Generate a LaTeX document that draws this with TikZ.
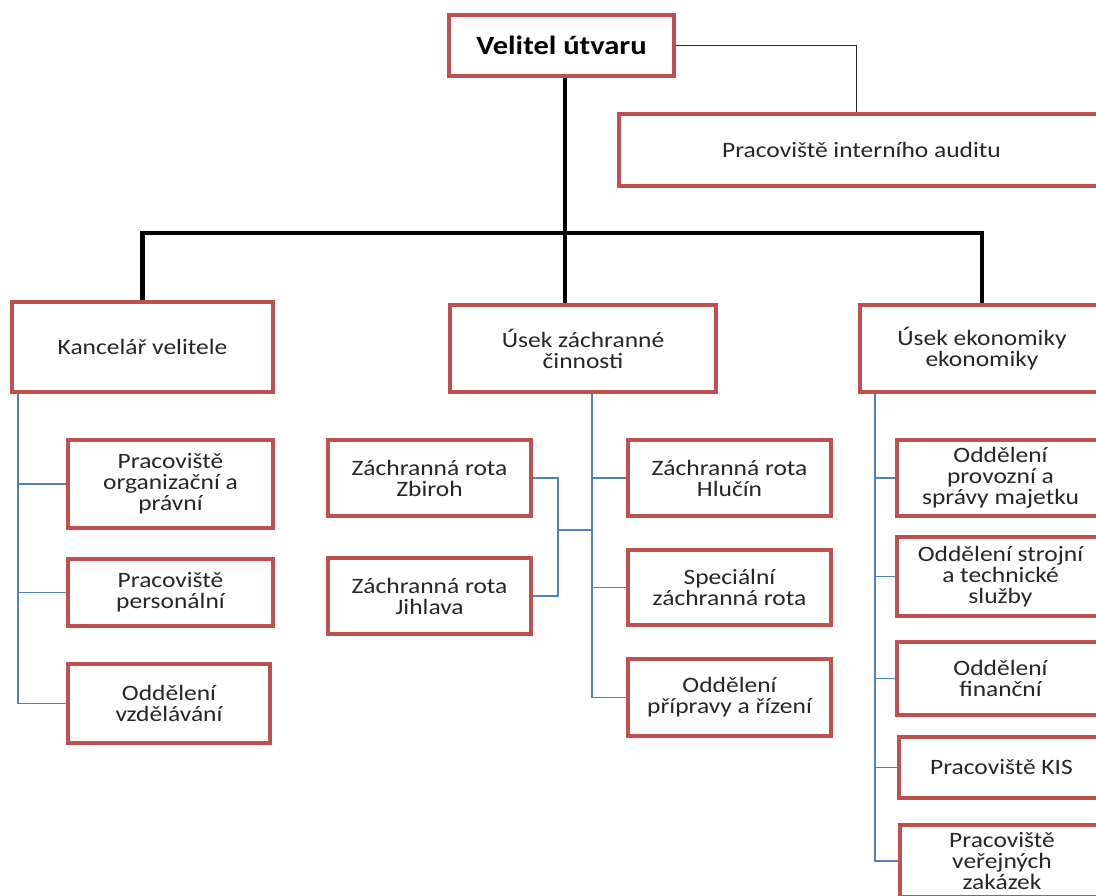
\documentclass[tikz,border=0pt]{standalone}
\usepackage{fontspec}
\setmainfont{Carlito}[FakeStretch=1.16]
\usepackage{tikz}
\usetikzlibrary{calc}
\definecolor{orgBorder}{HTML}{C0504D}
\definecolor{orgBranch}{HTML}{4F81BD}
\definecolor{orgText}{HTML}{262626}

\begin{document}
\begin{tikzpicture}[
        x=0.02cm, y=-0.02cm,
        box/.style={
            draw=orgBorder,
            line width=2.3pt,
            fill=white,
            align=center,
            inner sep=1pt,
            text=orgText,
            font=\fontsize{12.5}{12}\selectfont
        },
        trunk/.style={
            line width=2.8pt,
            draw=black
        },
        link/.style={
            line width=0.7pt,
            draw=black!85
        },
        branch/.style={
            line width=0.9pt,
            draw=orgBranch
        }
    ]
    \path[use as bounding box, clip] (0,0) rectangle (1096,896);

    % top level
    \node[box, minimum width=4.5cm, minimum height=1.22cm,
          font=\fontsize{15}{15}\selectfont\bfseries, text=black]
        (vel) at (561.5,45.5) {Velitel útvaru};
    \node[box, minimum width=9.7cm, minimum height=1.44cm] (audit) at (861.5,150)
        {Pracoviště interního auditu};

    % sections
    \node[box, minimum width=5.22cm, minimum height=1.8cm] (kanc) at (142.5,347)
        {Kancelář velitele};
    \node[box, minimum width=5.32cm, minimum height=1.74cm] (zach) at (583,348.5)
        {Úsek záchranné\\činnosti};
    \node[box, minimum width=4.88cm, minimum height=1.74cm] (ekon) at (982,348.5)
        {Úsek ekonomiky\\ekonomiky};

    % under Kancelar velitele
    \node[box, minimum width=4.1cm, minimum height=1.76cm] (org) at (170.5,484)
        {Pracoviště\\organizační a\\právní};
    \node[box, minimum width=4.1cm, minimum height=1.34cm] (pers) at (170.5,592.5)
        {Pracoviště\\personální};
    \node[box, minimum width=4.04cm, minimum height=1.58cm] (vzd) at (169,703.5)
        {Oddělení\\vzdělávání};

    % under Usek zachranne cinnosti
    \node[box, minimum width=4.06cm, minimum height=1.52cm] (zbir) at (429.5,478)
        {Záchranná rota\\Zbiroh};
    \node[box, minimum width=4.06cm, minimum height=1.52cm] (jihl) at (429.5,596)
        {Záchranná rota\\Jihlava};
    \node[box, minimum width=4.06cm, minimum height=1.52cm] (hluc) at (729.5,478)
        {Záchranná rota\\Hlučín};
    \node[box, minimum width=4.06cm, minimum height=1.5cm] (spec) at (729.5,587.5)
        {Speciální\\záchranná rota};
    \node[box, minimum width=4.06cm, minimum height=1.54cm] (prip) at (729.5,697.5)
        {Oddělení\\přípravy a řízení};

    % under Usek ekonomiky
    \node[box, minimum width=4.14cm, minimum height=1.52cm] (prov) at (1000.5,478)
        {Oddělení\\provozní a\\správy majetku};
    \node[box, minimum width=4.14cm, minimum height=1.58cm] (stroj) at (1000.5,576.5)
        {Oddělení strojní\\a technické\\služby};
    \node[box, minimum width=4.14cm, minimum height=1.46cm] (fin) at (1000.5,678.5)
        {Oddělení\\finanční};
    \node[box, minimum width=4.1cm, minimum height=1.22cm] (kis) at (1001.5,767.5)
        {Pracoviště KIS};
    \node[box, minimum width=4.08cm, minimum height=1.44cm] (verej) at (1002,861)
        {Pracoviště\\veřejných\\zakázek};

    % main lines
    \coordinate (hub) at ($(vel.south)+(3.5,155)$);
    \draw[trunk] ($(vel.south)+(3.5,0)$) -- (hub);
    \draw[trunk] (kanc.north) |- (hub) -| (ekon.north);
    \draw[trunk] (hub) -- (hub |- zach.north);
    \draw[link] (vel.east) -| ($(audit.north)+(-5,0)$);

    % branches
    \coordinate (kancR) at ($(kanc.south west)+(8,0)$);
    \foreach \n in {org,pers,vzd}
        \draw[branch] (kancR) |- (\n.west);

    \coordinate (zachR) at ($(zach.south west)+(144,0)$);
    \foreach \n in {hluc,spec,prip}
        \draw[branch] (zachR) |- (\n.west);
    \coordinate (zachL) at ($(zbir.east)+(25,52)$);
    \draw[branch] (zbir.east) -| (zachL) |- (jihl.east);
    \draw[branch] (zachL) -- (zachL -| zachR);

    \coordinate (ekonR) at ($(ekon.south west)+(17,0)$);
    \foreach \n in {prov,stroj,fin,kis,verej}
        \draw[branch] (ekonR) |- (\n.west);
\end{tikzpicture}
\end{document}
